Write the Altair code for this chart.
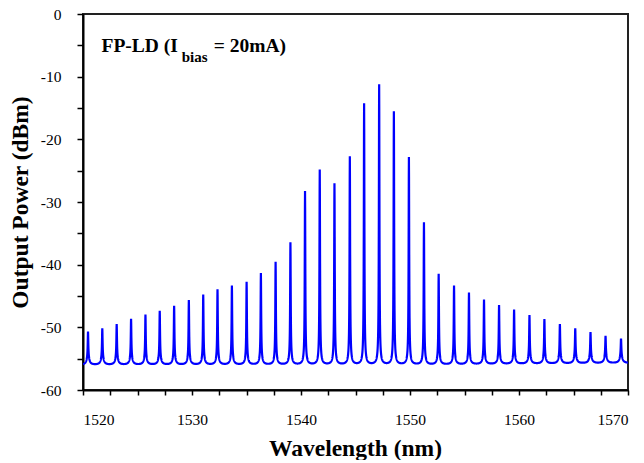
import numpy as np
import pandas as pd
import altair as alt

# ---- values ----
peak_wl = [1520.46, 1521.77, 1523.09, 1524.41, 1525.73, 1527.04, 1528.36, 1529.71,
           1531.03, 1532.34, 1533.66, 1535.01, 1536.32, 1537.67, 1539.03, 1540.37,
           1541.72, 1543.07, 1544.48, 1545.79, 1547.17, 1548.52, 1549.90, 1551.28,
           1552.63, 1554.04, 1555.41, 1556.79, 1558.17, 1559.55, 1560.96, 1562.33,
           1563.75, 1565.16, 1566.56, 1567.94, 1569.36]
peak_dbm = [-50.7, -50.2, -49.5, -48.7, -48.0, -47.4, -46.6, -45.7,
            -44.8, -44.0, -43.4, -42.8, -41.4, -39.6, -36.5, -28.3,
            -24.9, -27.1, -22.8, -14.35, -11.3, -15.6, -22.9, -33.3,
            -41.5, -43.4, -44.5, -45.6, -46.5, -47.2, -48.1, -48.7,
            -49.5, -50.2, -50.8, -51.4, -51.8]
floor_wl = [1520.0, 1552.0, 1570.0]
floor_dbm = [-56.0, -56.0, -55.7]

x_ticks = [1520 + 2.5 * i for i in range(21)]
y_ticks = [-60 + 5 * i for i in range(13)]

label_main = ["FP-LD (I"]
label_sub = ["bias"]
label_end = ["= 20mA)"]

# ---- spectrum trace built from the read mode peaks (line-shape model) ----
wl = np.union1d(np.round(np.arange(1520.0, 1570.0001, 0.01), 3), np.array(peak_wl))
floor = np.interp(wl, floor_wl, floor_dbm)
power = floor.copy()
g1, g2, foot = 0.03, 0.13, 1.3
for c, p in zip(peak_wl, peak_dbm):
    h = p - np.interp(c, floor_wl, floor_dbm)
    d = wl - c
    power += (h - foot) / (1 + (d / g1) ** 2) + foot / (1 + (d / g2) ** 2)

df = pd.DataFrame({"wavelength": np.round(wl, 3), "power": np.round(power, 3)})

FONT = "Liberation Serif"

line = alt.Chart(df).mark_line(color="#0000FF", strokeWidth=2.2, clip=True).encode(
    x=alt.X("wavelength:Q",
            scale=alt.Scale(domain=[1520, 1570], nice=False, zero=False),
            axis=alt.Axis(values=x_ticks,
                          labelExpr="datum.value % 10 === 0 ? '' + datum.value : ''",
                          title="Wavelength (nm)",
                          labelFont=FONT, titleFont=FONT,
                          titleX=272, titleY=65, titleBaseline="alphabetic",
                          tickSize=5, labelPadding=17)),
    y=alt.Y("power:Q",
            scale=alt.Scale(domain=[-60, 0], nice=False, zero=False),
            axis=alt.Axis(values=y_ticks,
                          labelExpr="datum.value % 10 === 0 ? '' + datum.value : ''",
                          title="Output Power (dBm)",
                          labelFont=FONT, titleFont=FONT,
                          titleX=-56, titleBaseline="alphabetic",
                          tickSize=6, labelPadding=16)),
)

t1 = alt.Chart(pd.DataFrame({"t": label_main})).mark_text(
    font=FONT, fontSize=19.5, fontWeight="bold", align="left", baseline="alphabetic", color="black"
).encode(x=alt.value(18.5), y=alt.value(38.3), text="t:N")
t2 = alt.Chart(pd.DataFrame({"t": label_sub})).mark_text(
    font=FONT, fontSize=15, fontWeight="bold", align="left", baseline="alphabetic", color="black"
).encode(x=alt.value(98.7), y=alt.value(48.3), text="t:N")
t3 = alt.Chart(pd.DataFrame({"t": label_end})).mark_text(
    font=FONT, fontSize=19.5, fontWeight="bold", align="left", baseline="alphabetic", color="black"
).encode(x=alt.value(130.7), y=alt.value(38.3), text="t:N")

chart = alt.layer(line, t1, t2, t3).properties(
    width=545, height=376,
    autosize=alt.AutoSizeParams(type="none"),
    padding={"left": 75, "top": 6, "right": 8, "bottom": 70},
).configure(
    font=FONT
).configure_view(
    stroke="#222222", strokeWidth=2
).configure_axis(
    grid=False,
    domainColor="black", domainWidth=2,
    tickColor="black", tickWidth=1.5,
    labelFontSize=15.5, labelColor="black",
    titleFontSize=23.5, titleFontWeight="bold", titleColor="black",
)

chart.save("out.html", embed_options={"renderer": "svg", "actions": False})
